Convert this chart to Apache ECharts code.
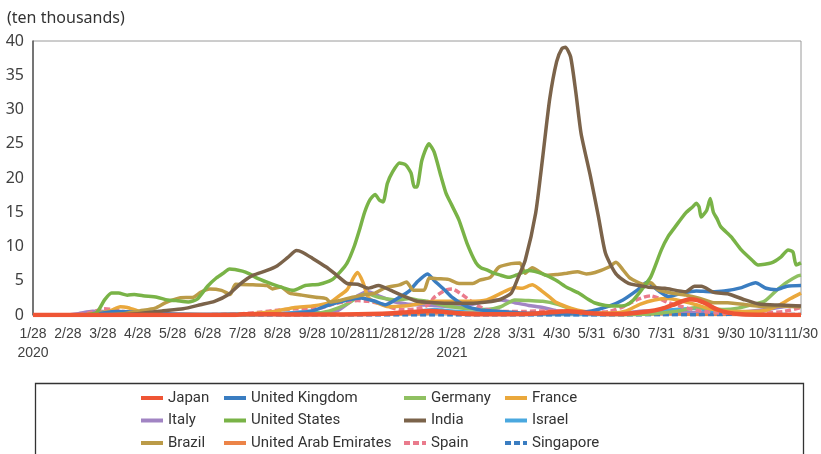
<!DOCTYPE html>
<html>
<head>
<meta charset="utf-8">
<script src="https://cdn.jsdelivr.net/npm/echarts@6/dist/echarts.min.js"></script>
<style>
html,body{margin:0;padding:0;background:#fff;}
#chart{width:821px;height:454px;}
</style>
</head>
<body>
<div id="chart"></div>
<script>
// Tick labels along the x axis (one per axis unit, ~monthly)
const tickLabels = ['1/28\n2020','2/28','3/28','4/28','5/28','6/28','7/28','8/28','9/28','10/28','11/28','12/28',
  '1/28\n2021','2/28','3/31','4/30','5/31','6/30','7/31','8/31','9/30','10/31','11/30'];

// Series values: [position on x axis (tick units), new cases 7-day average (ten thousands)]
const japan = [[0,0],[5.8,0],[6.0,0.1],[6.6,0.12],[7.2,0.08],[8.5,0.06],[9.3,0.1],[10.0,0.2],[10.6,0.35],[11.4,0.6],[11.8,0.45],[12.3,0.2],[13.0,0.1],[14.0,0.15],[14.6,0.3],[15.3,0.55],[15.9,0.3],[16.5,0.15],[17.0,0.2],[17.6,0.5],[18.0,0.9],[18.4,1.6],[18.8,2.3],[19.0,2.2],[19.3,1.6],[19.6,0.8],[19.9,0.35],[20.3,0.1],[21,0.02],[22,0.01]];
const unitedKingdom = [[0,0],[1.6,0],[2.0,0.3],[2.4,0.5],[2.7,0.48],[3.3,0.3],[4.0,0.15],[5.0,0.07],[6.0,0.07],[7.0,0.1],[7.5,0.25],[8.0,0.6],[8.5,1.5],[9.0,2.2],[9.4,2.5],[9.8,2.0],[10.1,1.5],[10.5,2.6],[10.8,3.6],[11.0,4.8],[11.3,6.0],[11.5,5.0],[11.8,3.6],[12.0,2.6],[12.4,1.3],[12.8,0.75],[13.2,0.6],[13.6,0.45],[14.0,0.3],[14.5,0.25],[15.0,0.22],[15.5,0.3],[16.0,0.6],[16.5,1.3],[16.9,2.2],[17.3,3.6],[17.6,4.8],[17.9,3.6],[18.2,2.7],[18.6,3.2],[19.0,3.5],[19.4,3.4],[19.8,3.5],[20.3,4.0],[20.7,4.7],[21.0,3.9],[21.3,3.7],[21.6,4.2],[22,4.3]];
const germany = [[0,0],[1.6,0.05],[2.0,0.4],[2.3,0.55],[2.6,0.45],[3.0,0.2],[3.5,0.1],[4,0.05],[6,0.05],[6.5,0.1],[7,0.15],[8.0,0.2],[8.5,0.6],[9.0,1.6],[9.3,2.6],[9.55,3.1],[9.9,2.6],[10.4,2.2],[10.8,2.4],[11.0,2.2],[11.3,2.0],[11.6,1.6],[12.0,1.2],[12.5,0.9],[13.0,0.8],[13.4,1.2],[13.8,2.2],[14.2,2.1],[14.6,2.0],[15.0,1.6],[15.4,0.9],[15.8,0.4],[16.2,0.15],[16.6,0.06],[17.0,0.05],[17.5,0.1],[18.0,0.3],[18.5,0.6],[19.0,1.1],[19.4,0.9],[19.8,0.8],[20.2,1.0],[20.6,1.5],[20.95,2.0],[21.3,3.6],[21.6,4.8],[21.9,5.7],[22,5.8]];
const france = [[0,0],[1.3,0],[1.7,0.1],[2.2,0.6],[2.5,1.2],[2.7,1.1],[3.0,0.6],[3.4,0.2],[4,0.08],[5,0.05],[6,0.1],[6.5,0.3],[7.0,0.6],[7.5,1.1],[8.0,1.3],[8.5,1.8],[8.8,2.9],[9.0,3.7],[9.2,5.6],[9.3,6.2],[9.45,4.8],[9.6,2.6],[9.8,1.9],[10.2,1.2],[10.6,1.3],[11.0,1.6],[11.5,2.0],[12.0,2.0],[12.5,2.0],[13.0,2.2],[13.5,3.4],[13.8,4.0],[14.0,3.9],[14.3,4.4],[14.5,3.8],[14.8,2.6],[15.0,1.8],[15.4,1.0],[15.8,0.5],[16.2,0.3],[16.6,0.3],[17.0,0.6],[17.4,1.6],[17.8,2.2],[18.2,2.4],[18.6,2.0],[19.0,1.5],[19.4,0.9],[19.8,0.6],[20.2,0.5],[20.6,0.5],[21.0,0.7],[21.4,1.5],[21.7,2.4],[22,3.2]];
const italy = [[0,0],[0.9,0.01],[1.3,0.2],[1.7,0.55],[2.0,0.5],[2.4,0.4],[3.0,0.25],[3.5,0.1],[4,0.04],[5,0.02],[6,0.03],[6.8,0.1],[7.5,0.15],[8.2,0.2],[8.7,0.6],[9.0,1.6],[9.3,2.8],[9.6,3.4],[9.9,2.8],[10.3,2.0],[10.7,1.6],[11.0,1.5],[11.5,1.4],[12.0,1.2],[12.5,1.5],[13.0,2.0],[13.4,2.2],[13.8,1.8],[14.2,1.4],[14.6,1.1],[15.0,0.6],[15.5,0.3],[16.0,0.1],[16.5,0.1],[17.0,0.3],[17.5,0.6],[18.0,0.6],[18.5,0.5],[19.0,0.35],[19.5,0.3],[20.0,0.3],[20.5,0.5],[21.0,0.8],[21.5,1.2],[22,1.3]];
const unitedStates = [[0,0],[1.5,0.02],[1.83,0.4],[2.05,2.2],[2.25,3.2],[2.45,3.2],[2.7,2.9],[2.9,3.0],[3.15,2.8],[3.55,2.6],[3.85,2.2],[4.1,2.1],[4.45,1.9],[4.7,2.3],[5.0,4.2],[5.25,5.4],[5.45,6.1],[5.63,6.7],[6.0,6.4],[6.2,6.0],[6.45,5.3],[6.85,4.5],[7.15,4.0],[7.45,3.6],[7.8,4.3],[8.2,4.5],[8.55,5.1],[8.8,6.3],[9.0,7.6],[9.2,10.0],[9.35,12.4],[9.5,15.0],[9.65,16.8],[9.8,17.6],[9.92,16.8],[10.03,16.5],[10.15,19.2],[10.3,20.9],[10.5,22.2],[10.68,21.9],[10.83,20.7],[10.92,18.7],[11.0,18.7],[11.14,22.6],[11.34,25.0],[11.49,23.8],[11.69,20.2],[11.83,17.8],[11.97,16.3],[12.2,13.9],[12.43,10.5],[12.69,7.6],[12.83,6.9],[13.0,6.6],[13.2,6.1],[13.4,5.8],[13.63,5.5],[13.83,5.8],[14.2,6.5],[14.6,6.0],[14.97,5.1],[15.3,4.0],[15.63,3.2],[15.9,2.3],[16.1,1.75],[16.4,1.4],[16.7,1.3],[16.97,1.4],[17.2,2.2],[17.45,3.8],[17.7,5.6],[18.0,9.5],[18.2,11.5],[18.4,12.9],[18.7,14.9],[18.9,15.8],[19.0,16.3],[19.08,15.8],[19.14,14.3],[19.3,15.3],[19.4,17.0],[19.49,15.0],[19.6,14.0],[19.7,12.9],[20.0,11.4],[20.29,9.5],[20.6,8.0],[20.77,7.3],[21.15,7.6],[21.43,8.5],[21.63,9.5],[21.77,9.2],[21.86,7.3],[22,7.6]];
const india = [[0,0],[2,0.02],[3,0.2],[3.7,0.6],[4.3,0.9],[4.8,1.5],[5.2,2.0],[5.6,3.0],[6.0,4.8],[6.3,5.8],[6.7,6.5],[7.0,7.2],[7.3,8.4],[7.55,9.4],[7.7,9.2],[8.0,8.3],[8.4,7.0],[8.7,5.8],[9.0,4.6],[9.3,4.5],[9.6,3.9],[9.9,4.3],[10.25,3.6],[10.6,2.8],[11.0,2.0],[11.5,1.8],[12.0,1.7],[12.5,1.7],[13.0,1.9],[13.4,2.3],[13.7,3.2],[13.9,5.5],[14.1,8.0],[14.4,14.9],[14.6,23.0],[14.8,31.5],[15.0,37.0],[15.15,38.9],[15.25,39.1],[15.4,37.7],[15.55,32.5],[15.7,26.5],[15.97,20.2],[16.2,14.3],[16.4,9.0],[16.7,6.0],[17.06,4.6],[17.6,4.1],[18.1,3.9],[18.7,3.4],[18.95,4.2],[19.15,4.2],[19.5,3.3],[19.9,3.1],[20.4,2.2],[20.8,1.6],[21.4,1.45],[22,1.3]];
const israel = [[0,0],[1.5,0],[2.1,0.05],[2.5,0.04],[3,0.01],[4,0.01],[4.5,0.02],[5.0,0.1],[5.5,0.15],[6.0,0.18],[6.5,0.15],[7.0,0.25],[7.5,0.4],[7.9,0.6],[8.1,0.45],[8.4,0.15],[8.8,0.07],[9.5,0.07],[10.2,0.15],[10.6,0.3],[11.0,0.55],[11.5,0.85],[11.8,0.7],[12.3,0.5],[12.7,0.35],[13.2,0.2],[13.6,0.05],[14,0.02],[16,0.01],[16.6,0.02],[17.2,0.15],[17.6,0.4],[18.0,0.65],[18.4,0.85],[18.8,0.95],[19.1,0.9],[19.4,0.5],[19.7,0.25],[20.2,0.07],[21,0.05],[22,0.06]];
const brazil = [[0,0],[2.0,0.02],[2.6,0.2],[3.06,0.6],[3.5,1.0],[3.8,1.8],[4.2,2.5],[4.6,2.6],[4.8,3.3],[5.06,3.8],[5.4,3.6],[5.65,3.0],[5.8,4.5],[6.3,4.4],[6.7,4.3],[6.86,3.8],[7.1,4.1],[7.35,3.2],[7.7,2.9],[8.1,2.6],[8.4,2.4],[8.5,1.9],[8.85,2.2],[9.15,2.6],[9.45,2.9],[9.8,3.2],[10.1,4.0],[10.5,4.4],[10.7,4.8],[10.9,3.6],[11.2,3.6],[11.35,5.4],[11.6,5.3],[11.9,5.2],[12.2,4.6],[12.6,4.6],[12.8,5.1],[13.1,5.5],[13.35,7.0],[13.7,7.5],[13.95,7.6],[14.1,6.1],[14.3,6.9],[14.7,5.8],[15.0,5.9],[15.3,6.1],[15.6,6.3],[15.85,6.0],[16.1,6.2],[16.5,7.0],[16.7,7.7],[16.9,6.6],[17.1,5.4],[17.5,4.5],[17.7,4.7],[17.9,3.7],[18.3,3.2],[18.7,2.9],[19.05,2.5],[19.5,1.8],[19.9,1.8],[20.5,1.45],[21.0,1.2],[21.4,1.3],[22,1.2]];
const unitedArabEmirates = [[0,0],[2.5,0.03],[3.5,0.05],[4.2,0.08],[5,0.04],[6,0.03],[7.5,0.05],[8.2,0.1],[9,0.12],[10,0.12],[11,0.13],[11.6,0.3],[12.2,0.37],[12.6,0.32],[13.2,0.22],[14,0.2],[15,0.2],[16,0.2],[17,0.16],[18,0.14],[19,0.05],[20,0.02],[21,0.01],[22,0.01]];
const spain = [[0,0],[1.3,0.02],[1.7,0.4],[2.0,0.9],[2.3,0.8],[2.6,0.5],[3.0,0.3],[3.5,0.1],[4,0.05],[5,0.05],[5.5,0.1],[6.0,0.2],[6.5,0.4],[7.0,0.7],[7.5,0.9],[8.0,1.0],[8.3,1.1],[8.6,1.6],[9.0,2.0],[9.3,2.1],[9.6,2.0],[9.9,1.7],[10.2,1.2],[10.5,0.8],[11.0,0.9],[11.3,1.4],[11.5,2.6],[11.8,3.6],[12.0,3.8],[12.2,3.3],[12.5,2.2],[12.75,1.3],[13.0,0.8],[13.5,0.5],[14.0,0.5],[14.5,0.6],[15.0,0.6],[15.5,0.45],[16.0,0.4],[16.5,0.5],[16.9,1.2],[17.2,2.0],[17.5,2.6],[17.7,2.8],[17.9,2.5],[18.2,1.8],[18.6,1.2],[19.0,0.7],[19.5,0.35],[20.0,0.25],[20.5,0.25],[21.0,0.3],[21.5,0.5],[22,1.1]];
const singapore = [[0,0],[2.2,0.01],[2.6,0.08],[2.9,0.1],[3.3,0.07],[4,0.05],[4.8,0.02],[6,0.03],[6.5,0.01],[12,0.005],[17,0.01],[18,0.03],[19,0.05],[19.5,0.08],[20.3,0.1],[21,0.08],[22,0.06]];

const chart = echarts.init(document.getElementById('chart'), null, {renderer:'canvas'});

function mk(name, data, color, width, dashed, z) {
  return {
    name: name, type: 'line', data: data, symbol: 'none', smooth: 0.2, z: z,
    lineStyle: {color: color, width: width, type: dashed ? [6,3] : 'solid', cap: 'butt', join: 'round'},
    itemStyle: {color: color},
    emphasis: {disabled: true}, silent: true, animation: false
  };
}

const series = [
  mk('Italy', italy, '#a184c3', 3.5, false, 2),
  mk('Israel', israel, '#4aa8df', 3, false, 2),
  mk('United Arab Emirates', unitedArabEmirates, '#ec8448', 3, false, 2),
  mk('Singapore', singapore, '#3a7dc1', 3.5, true, 2),
  mk('Germany', germany, '#8fc061', 3.5, false, 3),
  mk('Spain', spain, '#ea7b8c', 3.5, true, 3),
  mk('France', france, '#eaa83c', 3.5, false, 3),
  mk('United Kingdom', unitedKingdom, '#3a7dc1', 3.5, false, 3),
  mk('Brazil', brazil, '#bb9b48', 3.5, false, 4),
  mk('United States', unitedStates, '#79b347', 3.5, false, 4),
  mk('India', india, '#7b634a', 3.5, false, 5),
  mk('Japan', japan, '#ef5535', 4.5, false, 6)
];

const legendCols = [
  {left: 139, data: ['Japan', 'Italy', 'Brazil']},
  {left: 222, data: ['United Kingdom', 'United States', 'United Arab Emirates']},
  {left: 402, data: ['Germany', 'India', 'Spain']},
  {left: 503, data: ['France', 'Israel', 'Singapore']}
];

const legends = legendCols.map(c => ({
  orient: 'vertical', left: c.left, top: 388, padding: 0, itemGap: 2.5,
  itemWidth: 22, itemHeight: 20, data: c.data, selectedMode: false,
  itemStyle: {opacity: 0},
  lineStyle: {width: 4},
  textStyle: {fontFamily: 'Roboto, sans-serif', fontSize: 15, color: '#333', lineHeight: 20}
}));

chart.setOption({
  animation: false,
  backgroundColor: '#fff',
  grid: {left: 33, right: 19, top: 41, bottom: 139, show: true, borderColor: '#9a9a9a', borderWidth: 1, containLabel: false},
  title: {text: '(ten thousands)', left: 7, top: 10, padding: 0,
    textStyle: {fontFamily: '"Noto Sans", sans-serif', fontSize: 16, fontWeight: 'normal', color: '#333'}},
  legend: legends,
  xAxis: {
    type: 'value', min: 0, max: 22, interval: 1,
    axisLine: {show: false}, axisTick: {show: false}, splitLine: {show: false},
    axisLabel: {
      showMinLabel: true, showMaxLabel: true, hideOverlap: false, margin: 10,
      fontFamily: '"Liberation Sans", Arial, sans-serif', fontSize: 14, lineHeight: 19, color: '#404040',
      formatter: v => tickLabels[Math.round(v)]
    }
  },
  yAxis: {
    type: 'value', min: 0, max: 40, interval: 5,
    axisLine: {show: true, lineStyle: {color: '#595959', width: 1.5}},
    axisTick: {show: false}, splitLine: {show: false},
    axisLabel: {margin: 9, fontFamily: '"Noto Sans", sans-serif', fontSize: 16, color: '#404040', padding: [0,0,4,0]}
  },
  graphic: [{
    type: 'rect', left: 33, top: 381, silent: true,
    shape: {width: 768, height: 100},
    style: {fill: 'none', stroke: '#333', lineWidth: 1.3}
  }],
  series: series
});
</script>
</body>
</html>
